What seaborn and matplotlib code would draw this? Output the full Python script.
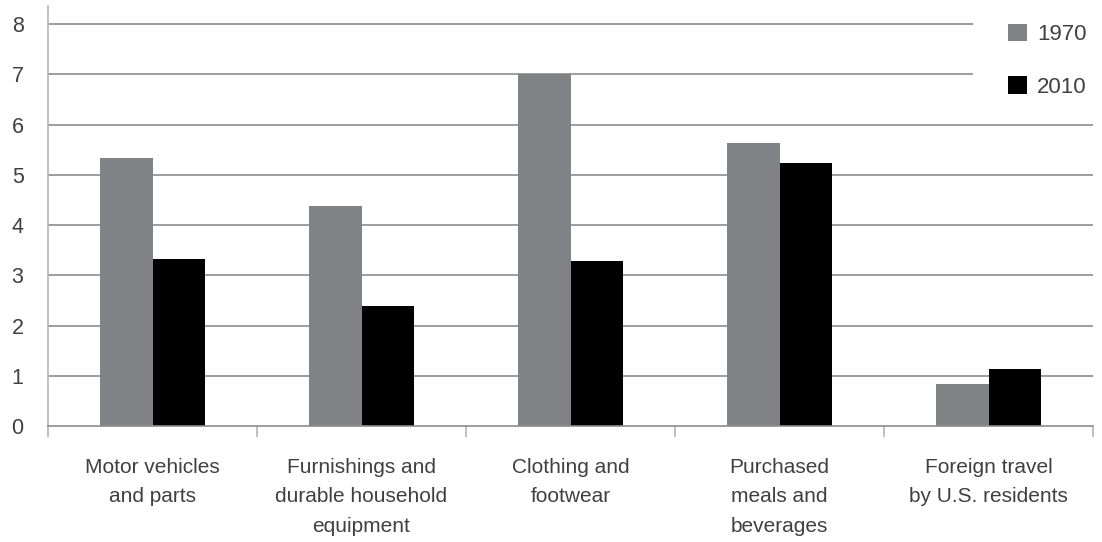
import matplotlib
matplotlib.use("Agg")
import matplotlib.pyplot as plt
import seaborn as sns
import pandas as pd
from matplotlib.patches import Patch, Rectangle

categories = [
    "Motor vehicles\nand parts",
    "Furnishings and\ndurable household\nequipment",
    "Clothing and\nfootwear",
    "Purchased\nmeals and\nbeverages",
    "Foreign travel\nby U.S. residents",
]
values_1970 = [5.34, 4.38, 7.0, 5.64, 0.84]
values_2010 = [3.33, 2.39, 3.29, 5.24, 1.13]
years = ["1970", "2010"]
y_ticks = [0, 1, 2, 3, 4, 5, 6, 7, 8]

colors = {"1970": "#818285", "2010": "#000000"}
text_color = "#404040"
grid_color = "#8c8c8c"
axis_color = "#b4b4b4"

df = pd.DataFrame({
    "category": categories * 2,
    "year": [years[0]] * len(categories) + [years[1]] * len(categories),
    "value": values_1970 + values_2010,
})

sns.set_theme(style="white")
plt.rcParams["font.family"] = ["Liberation Sans", "DejaVu Sans"]

W, H = 1102, 542
fig = plt.figure(figsize=(W / 100, H / 100), dpi=100)
ax = fig.add_axes([48 / W, 116 / H, (1093 - 48) / W, (426 - 6) / H])

sns.barplot(
    data=df, x="category", y="value", hue="year", order=categories,
    hue_order=years, palette=colors, width=0.5, saturation=1,
    linewidth=0, ax=ax, legend=False,
)

ax.set_xlim(-0.5, len(categories) - 0.5)
ax.set_ylim(0, 8.36)
ax.set_xlabel("")
ax.set_ylabel("")

# horizontal gridlines
for v in y_ticks[1:]:
    ax.axhline(v, color=grid_color, lw=1.2, zorder=0)

ax.set_yticks(y_ticks)
ax.set_yticklabels([str(v) for v in y_ticks], fontsize=15.5, color=text_color)
ax.tick_params(axis="y", length=8.6, width=1.2, color=grid_color, pad=9)

# category labels centered, boundary ticks between groups
ax.set_xticks(range(len(categories)))
ax.set_xticklabels(categories, fontsize=15, color=text_color, linespacing=1.7)
ax.set_xticks([i - 0.5 for i in range(len(categories) + 1)], minor=True)
ax.tick_params(axis="x", which="major", length=0, pad=23)
ax.tick_params(axis="x", which="minor", length=8, width=1.2, color=axis_color,
               bottom=True)

for side in ["top", "right"]:
    ax.spines[side].set_visible(False)
ax.spines["left"].set_color(axis_color)
ax.spines["left"].set_linewidth(1.2)
ax.spines["bottom"].set_color(grid_color)
ax.spines["bottom"].set_linewidth(1.2)

# white panel behind the legend
fig.patches.append(Rectangle((973 / W, 1 - 110 / H), (W - 973) / W, 110 / H,
                             transform=fig.transFigure, facecolor="white",
                             edgecolor="none", zorder=2))

handles = [Patch(facecolor=colors[y], edgecolor="none", label=y) for y in years]
leg = fig.legend(
    handles=handles, loc="upper left", bbox_to_anchor=(1008 / W, 1 - 24 / H),
    frameon=False, fontsize=16, handlelength=0.87, handleheight=0.82,
    handletextpad=0.45, labelspacing=1.4, borderpad=0, borderaxespad=0,
)
leg.set_zorder(3)
for t in leg.get_texts():
    t.set_color(text_color)

fig.savefig("out.png", dpi=100, facecolor="white")
